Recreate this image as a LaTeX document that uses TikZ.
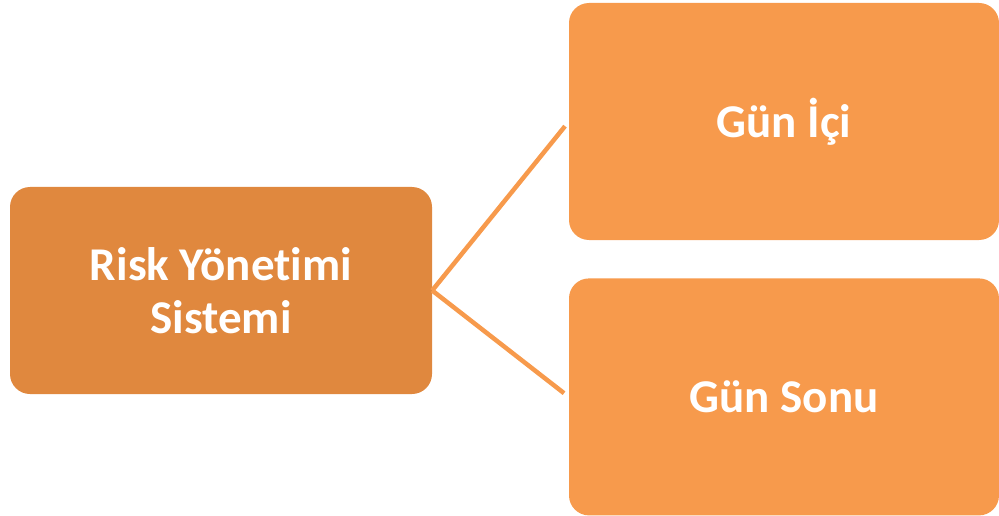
\documentclass[tikz,border=0pt]{standalone}
\usepackage{fontspec}
\setmainfont{Carlito}[Ligatures=NoCommon]
\usetikzlibrary{positioning}
\definecolor{sysorange}{RGB}{224,136,62}
\definecolor{dayorange}{RGB}{247,154,76}

\begin{document}
\begin{tikzpicture}[
	sysbox/.style={fill=sysorange, rounded corners=20pt, minimum width=422pt, minimum height=207pt, text=white, font=\fontsize{47}{53}\selectfont\bfseries, align=center},
	daybox/.style={fill=dayorange, rounded corners=20pt, minimum width=430pt, minimum height=237pt, text=white, font=\fontsize{47}{53}\selectfont\bfseries, align=center},
	link/.style={draw=dayorange, line width=4.5pt, shorten >=6pt}
	]
		\useasboundingbox (0,0) rectangle (999pt,-516pt);
		\node[sysbox] (sys) at (221pt,-290.5pt) {Risk Yönetimi\\Sistemi};
		\node[daybox] (intra) at (784pt,-121.5pt) {Gün İçi};
		\node[daybox, below=38pt of intra] (eod) {Gün Sonu};
		
		\draw[link] (sys.east)--(intra.west);
		\draw[link] (sys.east)--(eod.west);
	\end{tikzpicture}
\end{document}
